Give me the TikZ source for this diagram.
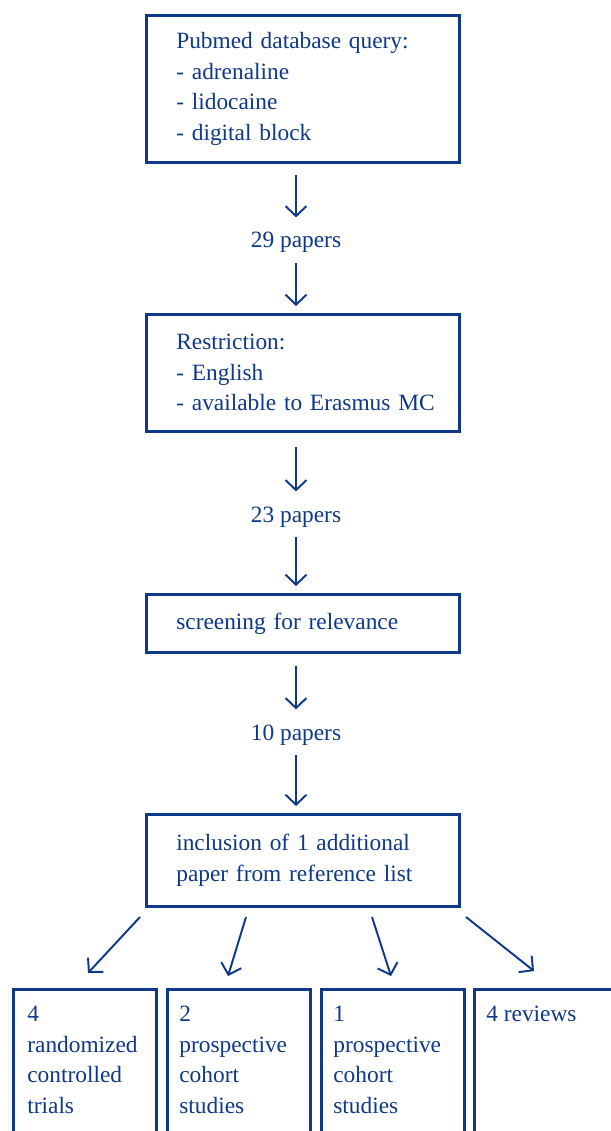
\documentclass[tikz,border=0pt]{standalone}
\usepackage{fontspec}
\setmainfont{Liberation Serif}
\usetikzlibrary{arrows.meta}
\definecolor{navy}{RGB}{14,56,136}

\begin{document}
\begin{tikzpicture}[x=0.02cm, y=-0.02cm, every node/.style={font=\fontsize{13.3}{17.4}\selectfont, text=navy}]
\tikzset{
  box/.style={draw=navy, line width=1.5pt, anchor=north west, align=left, inner xsep=0.6cm, inner ysep=0pt},
  num/.style={anchor=base, inner sep=1pt},
  arr/.style={draw=navy, line width=1.1pt, -{Straight Barb[length=0.2cm,width=0.42cm]}},
  col/.style={draw=navy, line width=1.5pt, anchor=north west, minimum width=2.86cm, minimum height=4cm},
  ctext/.style={anchor=north west, align=left, inner sep=0pt}
}
\useasboundingbox (0,0) rectangle (611,1131);
\clip (0,0) rectangle (611,1131);

% --- selection steps ---
\node[box, text width=5.06cm, minimum height=2.94cm] (query) at (145,14)
  {Pubmed database query:\\- adrenaline\\- lidocaine\\- digital block};
\node[num] (n29) at (296,248) {29 papers};
\node[box, text width=5.06cm, minimum height=2.34cm] (restr) at (145,313)
  {Restriction:\\- English\\\mbox{- available to Erasmus MC}};
\node[num] (n23) at (296,522) {23 papers};
\node[box, text width=5.06cm, minimum height=1.16cm] (screen) at (145,593)
  {screening for relevance};
\node[num] (n10) at (296,740) {10 papers};
\node[box, text width=5.06cm, minimum height=1.84cm] (incl) at (145,813)
  {inclusion of 1 additional\\paper from reference list};

\draw[arr, shorten <=0.22cm, shorten >=0.26cm] (query.south -| n29) -- (n29.north);
\draw[arr, shorten <=0.16cm, shorten >=0.14cm] (n29.south) -- (n29 |- restr.north);
\draw[arr, shorten <=0.28cm, shorten >=0.26cm] (restr.south -| n23) -- (n23.north);
\draw[arr, shorten <=0.16cm, shorten >=0.14cm] (n23.south) -- (n23 |- screen.north);
\draw[arr, shorten <=0.24cm, shorten >=0.26cm] (screen.south -| n10) -- (n10.north);
\draw[arr, shorten <=0.16cm, shorten >=0.14cm] (n10.south) -- (n10 |- incl.north);

% --- study types ---
\node[col] (rct) at (12,988) {};
\node[col] (pro2) at (166,988) {};
\node[col] (pro1) at (320,988) {};
\node[col] (rev) at (473,988) {};
\node[ctext] (trct) at ([shift={(15,18)}]rct.north west) {4\\randomized\\controlled\\trials};
\node[ctext] (tpro2) at ([shift={(13,18)}]pro2.north west) {2\\prospective\\cohort\\studies};
\node[ctext] (tpro1) at ([shift={(13,18)}]pro1.north west) {1\\prospective\\cohort\\studies};
\node[ctext] (trev) at ([shift={(13,18)}]rev.north west) {4 reviews};

\coordinate (s1) at (140,917); \coordinate (e1) at (88,973);
\coordinate (s2) at (246,917); \coordinate (e2) at (228,976);
\coordinate (s3) at (372,917); \coordinate (e3) at (391,976);
\coordinate (s4) at (466,917); \coordinate (e4) at (534,971);
\draw[arr] (s1) -- (e1);
\draw[arr] (s2) -- (e2);
\draw[arr] (s3) -- (e3);
\draw[arr] (s4) -- (e4);
\end{tikzpicture}
\end{document}
